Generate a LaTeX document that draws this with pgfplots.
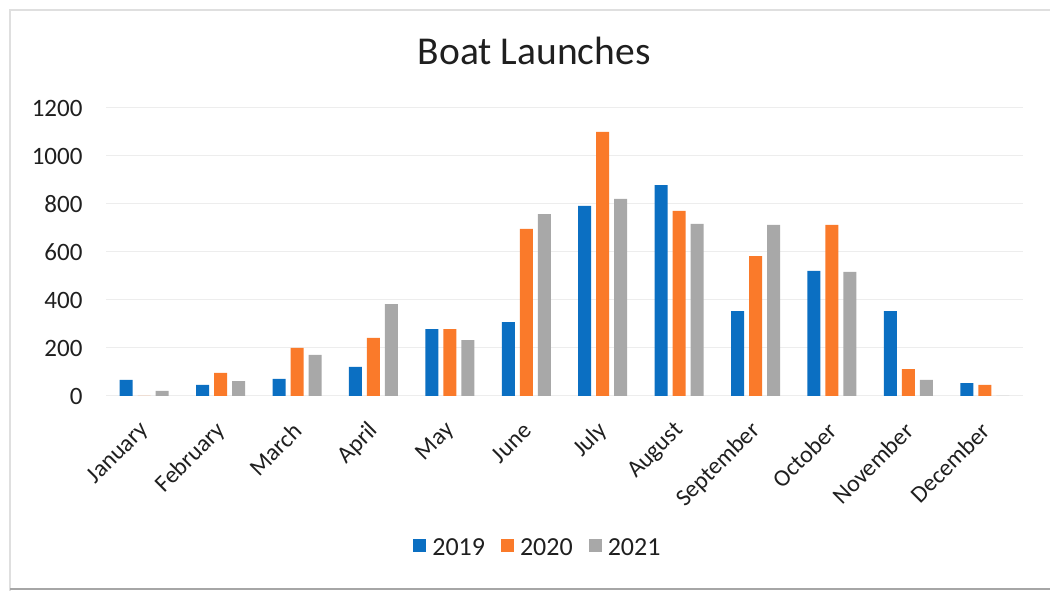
\documentclass[border=0pt]{standalone}
\usepackage{pgfplots}
\pgfplotsset{compat=1.18}
\usepackage{fontspec}
\setmainfont{Carlito}
\definecolor{c19}{HTML}{0B6FC2}
\definecolor{c20}{HTML}{FA7A2A}
\definecolor{c21}{HTML}{A8A8A8}
\definecolor{gridc}{HTML}{EDEDED}
\definecolor{txt}{HTML}{1F1F1F}
\begin{document}
\begin{tikzpicture}
\useasboundingbox (0,0) rectangle (1050pt,591pt);
\draw[draw=gray!25, line width=1.5pt] (10pt,0pt) -- (10pt,581pt) -- (1050pt,581pt);
\draw[draw=gray!70, line width=1.5pt] (10pt,2pt) -- (1050pt,2pt);
\begin{axis}[
  at={(106pt,195pt)}, anchor=south west,
  scale only axis, width=917pt, height=288pt,
  ybar=5pt, bar width=13pt,
  xmin=-0.5, xmax=11.5, ymin=0, ymax=1200,
  ytick={0,200,...,1200},
  xtick={0,...,11},
  xticklabels={January,February,March,April,May,June,July,August,September,October,November,December},
  xticklabel style={inner sep=0pt, xshift=1pt, yshift=-31pt, rotate=45, anchor=east, font=\fontsize{24}{24}\selectfont, text=txt},
  yticklabel style={font=\fontsize{25}{25}\selectfont, text=txt, xshift=-20pt},
  /pgf/number format/assume math mode=true,
  /pgf/number format/1000 sep={},
  axis line style={draw=none},
  major tick length=0pt,
  ymajorgrids, grid style={draw=gridc, line width=1pt},
  title={Boat Launches},
  title style={at={(0.467,1.177)}, anchor=center, font=\fontsize{39.5}{39.5}\selectfont, text=txt},
  legend columns=3,
  legend style={at={(0.471,-0.528)}, anchor=center, draw=none, fill=none,
    font=\fontsize{26}{26}\selectfont, text=txt,
    /tikz/every even column/.append style={column sep=14pt},
    /tikz/every odd column/.append style={column sep=4pt}},
  legend image code/.code={\fill[#1] (0pt,-4pt) rectangle (13pt,9pt);},
]
\addplot[fill=c19, draw=none] coordinates {(0,67) (1,46) (2,71) (3,121) (4,279) (5,308) (6,792) (7,879) (8,354) (9,521) (10,354) (11,54)};
\addplot[fill=c20, draw=none] coordinates {(0,0) (1,96) (2,200) (3,242) (4,279) (5,696) (6,1100) (7,771) (8,583) (9,713) (10,112) (11,46)};
\addplot[fill=c21, draw=none] coordinates {(0,21) (1,62) (2,171) (3,383) (4,233) (5,758) (6,821) (7,717) (8,713) (9,517) (10,67) (11,0)};
\legend{2019,2020,2021}
\end{axis}
\end{tikzpicture}
\end{document}
